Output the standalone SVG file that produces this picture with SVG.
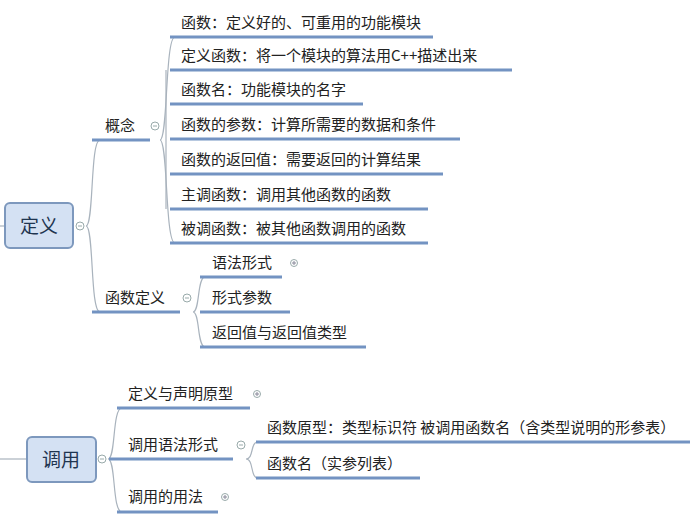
<svg xmlns="http://www.w3.org/2000/svg" width="690" height="521" viewBox="0 0 690 521">
<style>
text{font-family:"Noto Sans CJK SC","Liberation Sans",sans-serif;font-size:15px;fill:#222}
.big{font-size:19px;fill:#1f3550}
.u{stroke:#7393c2;stroke-width:3;fill:none}
.c{stroke:#a9b3bd;stroke-width:1.2;fill:none}
.t{fill:#fff;stroke:#9aa;stroke-width:1}
.box{fill:#d4e1f3;stroke:#7d98bd;stroke-width:2}
</style>
<rect width="690" height="521" fill="#fff"/>
<g id="connectors">
<path class="c" d="M0,226H5"/>
<path class="c" d="M86,226C94,226 90,140 100,140M86,226C94,226 90,312 100,312"/>
<path class="u" d="M92,140H150M92,312H180"/>
<path class="c" d="M160,140C168,140 165,37 175,37M160,140C168,140 165,243 175,243"/>
<path class="c" d="M166,70V209"/>
<path class="u" d="M170,37H433M170,70H512M170,104H363M170,139H460M170,174H443M170,209H428M170,243H428"/>
<path class="c" d="M193,312C200,312 197,277 205,277M193,312C200,312 197,347 205,347"/>
<path class="u" d="M200,277H282M200,312H290M200,347H366"/>
<path class="c" d="M0,459H27"/>
<path class="c" d="M108,459C116,459 112,408 122,408M108,459C116,459 112,512 122,512"/>
<path class="u" d="M117,408H250M109,459H233M117,512H218"/>
<path class="c" d="M246,459C254,459 250,442 258,442M246,459C254,459 250,478 258,478"/>
<path class="u" d="M256,442H690M256,478H420"/>
</g>
<g id="dingyi"><rect class="box" x="5" y="203" width="68" height="45" rx="5"/><text class="big" x="39" y="233" text-anchor="middle">定义</text><circle class="t" cx="80" cy="226" r="4"/><path d="M78,226h4" stroke="#9aa"/></g>
<g id="gainian"><text x="105" y="131">概念</text><circle class="t" cx="155" cy="126" r="4"/><path d="M153,126h4" stroke="#9aa"/></g>
<g id="c1"><text x="181" y="28">函数：定义好的、可重用的功能模块</text></g>
<g id="c2"><text x="181" y="61">定义函数：将一个模块的算法用C++描述出来</text></g>
<g id="c3"><text x="181" y="95">函数名：功能模块的名字</text></g>
<g id="c4"><text x="181" y="130">函数的参数：计算所需要的数据和条件</text></g>
<g id="c5"><text x="181" y="165">函数的返回值：需要返回的计算结果</text></g>
<g id="c6"><text x="181" y="200">主调函数：调用其他函数的函数</text></g>
<g id="c7"><text x="181" y="234">被调函数：被其他函数调用的函数</text></g>
<g id="hsdy"><text x="105" y="303">函数定义</text><circle class="t" cx="187" cy="298" r="4"/><path d="M185,298h4" stroke="#9aa"/></g>
<g id="d1"><text x="212" y="268">语法形式</text><circle class="t" cx="294" cy="263" r="3.5"/><path d="M292,263h4M294,261v4" stroke="#889"/></g>
<g id="d2"><text x="212" y="303">形式参数</text></g>
<g id="d3"><text x="212" y="338">返回值与返回值类型</text></g>
<g id="diaoyong"><rect class="box" x="27" y="437" width="69" height="45" rx="5"/><text class="big" x="61" y="467" text-anchor="middle">调用</text><circle class="t" cx="102" cy="459" r="4"/><path d="M100,459h4" stroke="#9aa"/></g>
<g id="e1"><text x="128" y="399">定义与声明原型</text><circle class="t" cx="257" cy="394" r="3.5"/><path d="M255,394h4M257,392v4" stroke="#889"/></g>
<g id="e2"><text x="128" y="450">调用语法形式</text><circle class="t" cx="241" cy="445" r="4"/><path d="M239,445h4" stroke="#9aa"/></g>
<g id="e3"><text x="128" y="502">调用的用法</text><circle class="t" cx="225" cy="497" r="3.5"/><path d="M223,497h4M225,495v4" stroke="#889"/></g>
<g id="f1"><text x="267" y="433">函数原型：类型标识符 被调用函数名（含类型说明的形参表）</text></g>
<g id="f2"><text x="267" y="469">函数名（实参列表）</text></g>
</svg>
